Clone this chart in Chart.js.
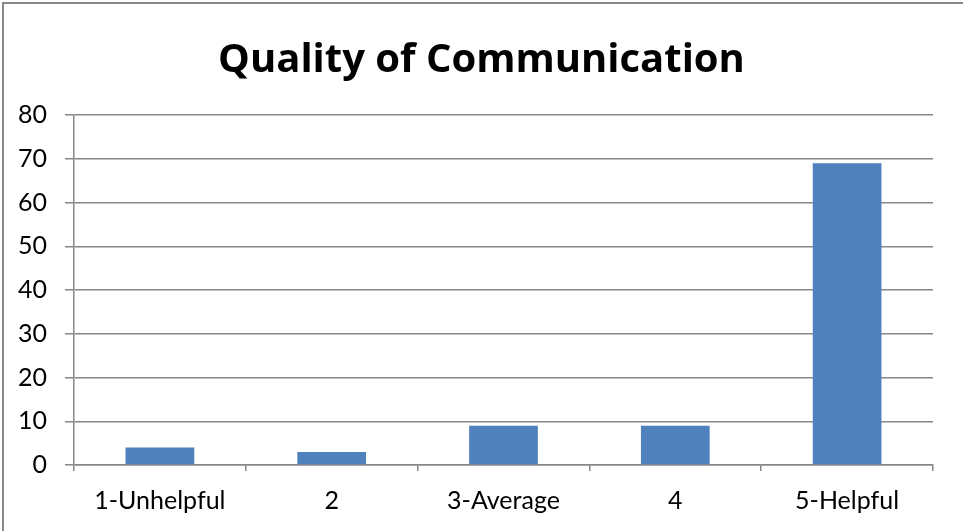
<!DOCTYPE html>
<html>
<head>
<meta charset="utf-8">
<script src="https://cdn.jsdelivr.net/npm/chart.js@4/dist/chart.umd.min.js"></script>
<style>
    body { margin: 0; background: #fff; }
    #wrap { position: relative; width: 963px; height: 531px; }
    #frame { position: absolute; left: 2px; top: 2px; width: 980px; height: 560px;
             border: 2px solid #888; pointer-events: none; }
</style>
</head>
<body>
<div id="wrap">
    <canvas id="myChart" width="963" height="531"></canvas>
    <div id="frame"></div>
</div>
<script>
var categories = ["1-Unhelpful", "2", "3-Average", "4", "5-Helpful"];
var responses = [4, 3, 9, 9, 69];
var yTicks = [0, 10, 20, 30, 40, 50, 60, 70, 80];

var ctx = document.getElementById('myChart').getContext('2d');

var myChart = new Chart(ctx, {
    type: 'bar',
    data: {
        labels: categories,
        datasets: [{
            label: 'Responses',
            data: responses,
            backgroundColor: '#4F81BD',
            barPercentage: 0.4,
            categoryPercentage: 1
        }]
    },
    options: {
        responsive: false,
        animation: false,
        layout: {
            padding: { left: 0, right: 0, top: 0, bottom: 0 }
        },
        plugins: {
            legend: { display: false },
            tooltip: { enabled: false },
            title: {
                display: true,
                text: 'Quality of Communication',
                color: '#000',
                font: { family: 'Open Sans', size: 40, weight: 'bold' },
                padding: { top: 37, bottom: 30 }
            }
        },
        scales: {
            x: {
                grid: {
                    display: true,
                    drawOnChartArea: false,
                    drawTicks: true,
                    tickLength: 6,
                    color: '#888',
                    lineWidth: 1.5
                },
                border: { color: '#888', width: 1.5 },
                ticks: {
                    color: '#000',
                    padding: 15,
                    font: { family: 'Lato', size: 25 }
                }
            },
            y: {
                min: 0,
                max: 80,
                afterBuildTicks: function (scale) {
                    scale.ticks = yTicks.map(function (v) { return { value: v }; });
                },
                grid: {
                    color: '#888',
                    lineWidth: 1.5,
                    tickLength: 9
                },
                border: { color: '#888', width: 1.5 },
                ticks: {
                    color: '#000',
                    padding: 18,
                    font: { family: 'Lato', size: 25 }
                }
            },
            // empty right-hand axis, only to leave space right of the plot
            spacer: {
                type: 'linear',
                position: 'right',
                grid: { display: false },
                border: { display: false },
                ticks: { display: false },
                afterFit: function (scale) { scale.width = 30; }
            }
        }
    }
});
</script>
</body>
</html>
